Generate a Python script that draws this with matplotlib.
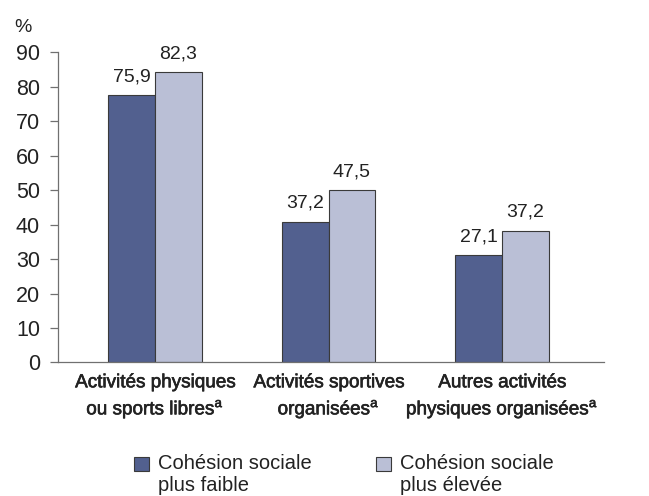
import matplotlib
matplotlib.use("Agg")
import matplotlib.pyplot as plt
import matplotlib.patheffects as pe
import numpy as np
from matplotlib.patches import Rectangle
from matplotlib.legend_handler import HandlerPatch

plt.rcParams["font.family"] = ["Liberation Sans", "DejaVu Sans"]
plt.rcParams["mathtext.fontset"] = "custom"
plt.rcParams["mathtext.rm"] = "Liberation Sans"

# Data (bar heights as drawn in the source, printed labels as published)
categories = [
    "Activités physiques\nou sports libres$^{\\mathrm{a}}$",
    "Activités sportives\norganisées$^{\\mathrm{a}}$",
    "Autres activités\nphysiques organisées$^{\\mathrm{a}}$",
]
low_heights = [77.6, 40.9, 31.2]
high_heights = [84.2, 50.1, 38.3]
low_labels = ["75,9", "37,2", "27,1"]
high_labels = ["82,3", "47,5", "37,2"]
series_names = ["Cohésion sociale\nplus faible", "Cohésion sociale\nplus élevée"]
yticks = [0, 10, 20, 30, 40, 50, 60, 70, 80, 90]

dark = "#52608f"
light = "#babfd6"
edge = "#3a3a3a"
text_col = "#222222"

fig = plt.figure(figsize=(6.49, 4.96), dpi=100)
ax = fig.add_axes([0.0894, 0.2692, 0.8413, 0.625])

x = np.arange(len(categories))
w = 0.269
b1 = ax.bar(x - w / 2, low_heights, w, color=dark, edgecolor=edge, linewidth=0.8)
b2 = ax.bar(x + w / 2, high_heights, w, color=light, edgecolor=edge, linewidth=0.8)

for bars, labels in [(b1, low_labels), (b2, high_labels)]:
    for bar, lab in zip(bars, labels):
        ax.annotate(lab, (bar.get_x() + bar.get_width() / 2, bar.get_height()),
                    xytext=(0, 7), textcoords="offset points",
                    ha="center", va="bottom", fontsize=14, color=text_col)

ax.set_xlim(-0.559, 2.588)
ax.set_ylim(0, 90)
ax.set_yticks(yticks)
ax.set_xticks(x)
ax.set_xticklabels(categories, fontsize=13.6, color=text_col, linespacing=1.38)
# medium weight look: regular glyphs with a hairline stroke
for lbl in ax.get_xticklabels():
    lbl.set_path_effects([pe.withStroke(linewidth=0.45, foreground=text_col)])
ax.tick_params(axis="x", length=0, pad=8.5)
ax.tick_params(axis="y", length=6, width=0.9, color="#707070", pad=7,
               labelsize=15.5, labelcolor=text_col)
for s in ["top", "right"]:
    ax.spines[s].set_visible(False)
for s in ["left", "bottom"]:
    ax.spines[s].set_color("#707070")
    ax.spines[s].set_linewidth(0.9)

fig.text(14 / 649, 1 - 27 / 496, "%", fontsize=14, color=text_col, va="center")


def square(legend, orig_handle, xdescent, ydescent, width, height, fontsize):
    # lift the square so it sits on the first line of the label
    return Rectangle((-xdescent, -ydescent + 0.55 * fontsize), width, height)


leg = fig.legend([b1[0], b2[0]], series_names, loc="center",
                 bbox_to_anchor=(344 / 649, 0.043), ncol=2, frameon=False,
                 fontsize=14.5, handlelength=0.75, handleheight=0.75,
                 handletextpad=0.45, columnspacing=3.2,
                 handler_map={Rectangle: HandlerPatch(patch_func=square)})
for t in leg.get_texts():
    t.set_color(text_col)

fig.savefig("out.png", dpi=100)
